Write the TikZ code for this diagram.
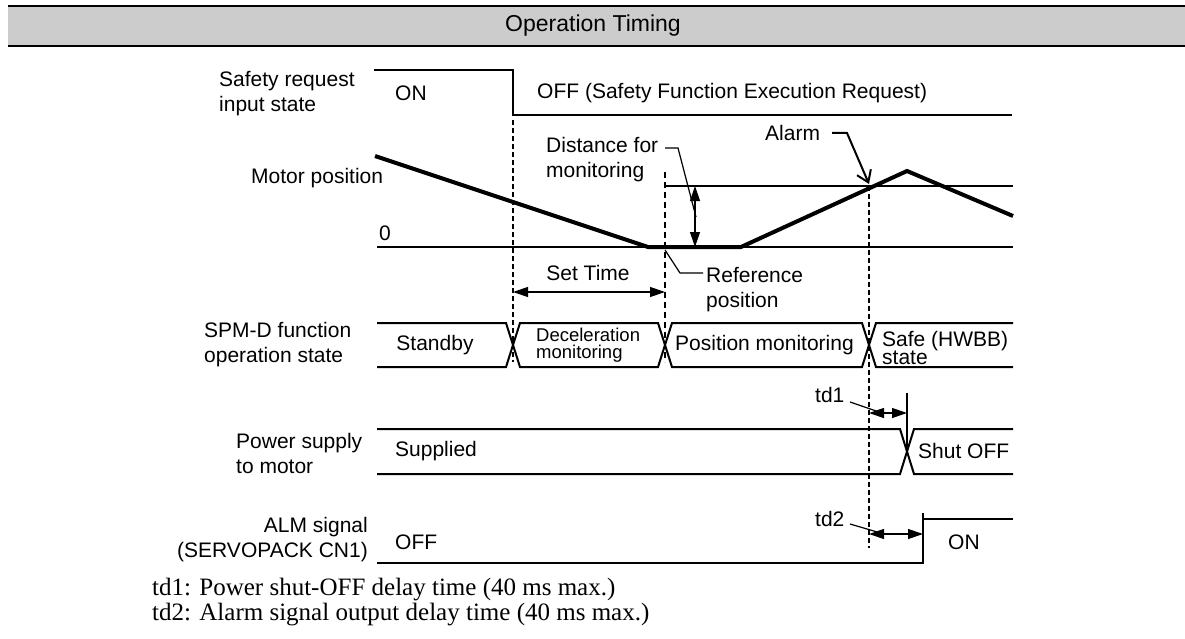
\documentclass[tikz,border=0pt]{standalone}
\usepackage{fontspec}
\setmainfont{Liberation Serif}
\setsansfont{Liberation Sans}
\usetikzlibrary{arrows.meta}
\definecolor{bandgray}{HTML}{CCCCCC}
\begin{document}
\begin{tikzpicture}[x=1pt,y=-1pt,
  lbl/.style={font=\sffamily\fontsize{21}{25}\selectfont, inner sep=0pt, align=left},
  small/.style={font=\sffamily\fontsize{18.5}{17.5}\selectfont, inner sep=0pt, align=left},
  tight/.style={font=\sffamily\fontsize{21}{17}\selectfont, inner sep=0pt, align=left},
  note/.style={font=\rmfamily\fontsize{25}{25}\selectfont, inner sep=0pt, anchor=west},
  sig/.style={line width=2pt, line join=miter},
  thinl/.style={line width=1.2pt},
  dash1/.style={line width=1.2pt, dash pattern=on 5pt off 3pt},
  dash2/.style={line width=2pt, dash pattern=on 6pt off 4pt},
  dimarr/.style={line width=1.2pt, {Triangle[length=15pt,width=10pt]}-{Triangle[length=15pt,width=10pt]}},
  leader/.style={line width=1.2pt}
]
\useasboundingbox (0,0) rectangle (1185,639);
% title band
\fill[bandgray] (8,6) rectangle (1185,46);
\draw[line width=2pt] (8,6) -- (1185,6);
\draw[line width=2pt] (8,46) -- (1185,46);
\node[lbl, font=\sffamily\fontsize{23}{25}\selectfont] (title) at (593,26) {Operation Timing};

% left labels
\node[lbl, anchor=west] (lsafe) at (219,94) {Safety request\\input state};
\node[lbl, anchor=west] (lmotor) at (251,178) {Motor position};
\node[lbl, anchor=west] (lspm) at (204,345) {SPM-D function\\operation state};
\node[lbl, anchor=west] (lpow) at (236,453) {Power supply\\to motor};
\node[lbl, anchor=east, align=right] (lalm) at (368,540) {ALM signal\\(SERVOPACK CN1)};

% safety request input state
\coordinate (sa) at (374,70);
\coordinate (sb) at (513,70);
\coordinate (sc) at (513,115);
\coordinate (sd) at (1012,115);
\draw[sig] (sa) -- (sb) -- (sc) -- (sd);
\node[lbl, anchor=west] (on1) at (395,93) {ON};
\node[lbl, anchor=west] (off1) at (537,93) {OFF (Safety Function Execution Request)};

% motor position
\coordinate (z0) at (377,247);
\coordinate (z1) at (1013,247);
\draw[thinl] (z0) -- (z1);
\coordinate (th0) at (665,186);
\coordinate (th1) at (1013,186);
\draw[line width=1.5pt] (th0) -- (th1);
\node[lbl, anchor=west] (zero) at (379,233) {0};
\coordinate (m0) at (375,156);
\coordinate (m1) at (648,247);
\coordinate (m2) at (741,247);
\coordinate (m3) at (907,171);
\coordinate (m4) at (1013,216);
\draw[line width=4pt, line join=miter] (m0) -- (m1) -- (m2) -- (m3) -- (m4);

% dashed time markers
\coordinate (d1a) at (513,120);
\coordinate (d1b) at (513,362);
\draw[dash1] (d1a) -- (d1b);
\coordinate (d2a) at (665,172);
\coordinate (d2b) at (665,362);
\draw[dash2] (d2a) -- (d2b);
\coordinate (d3a) at (869,186);
\coordinate (d3b) at (869,548);
\draw[dash1] (d3a) -- (d3b);

% distance for monitoring
\node[lbl, anchor=west] (dist) at (546,160) {Distance for\\monitoring};
\coordinate (da) at (695,186);
\coordinate (db) at (695,247);
\draw[dimarr] (da) -- (db);
\coordinate (dl0) at (665,148);
\coordinate (dl1) at (678,148);
\coordinate (dl2) at (696,217);
\draw[leader] (dl0) -- (dl1) -- (dl2);

% alarm
\node[lbl, anchor=west] (alarm) at (765,133) {Alarm};
\coordinate (al0) at (832,133);
\coordinate (al1) at (847,133);
\coordinate (al2) at (869,184);
\draw[line width=2pt, -{Straight Barb[length=11pt,width=15pt,line width=2pt]}] (al0) -- (al1) -- (al2);

% reference position
\node[lbl, anchor=west] (refpos) at (706,290) {Reference\\position};
\coordinate (r0) at (665,250);
\coordinate (r1) at (680,273);
\coordinate (r2) at (703,273);
\draw[leader] (r0) -- (r1) -- (r2);

% set time
\node[lbl] (settime) at (588,273) {Set Time};
\coordinate (st0) at (513,292);
\coordinate (st1) at (665,292);
\draw[dimarr] (st0) -- (st1);

% SPM-D state lane
\draw[sig] (377,323) -- (506,323) -- (520,367) -- (658,367) -- (672,323) -- (862,323) -- (876,367) -- (1013,367);
\draw[sig] (377,367) -- (506,367) -- (520,323) -- (658,323) -- (672,367) -- (862,367) -- (876,323) -- (1013,323);
\node[lbl] (standby) at (435,345) {Standby};
\node[small, anchor=west] (decel) at (536,345) {Deceleration\\monitoring};
\node[lbl, anchor=west] (posmon) at (675,345) {Position monitoring};
\node[tight, anchor=west] (safe) at (882,348) {Safe (HWBB)\\state};

% power supply lane
\draw[sig] (377,429) -- (900,429) -- (914,474) -- (1013,474);
\draw[sig] (377,474) -- (900,474) -- (914,429) -- (1013,429);
\node[lbl, anchor=west] (supplied) at (395,451) {Supplied};
\node[lbl, anchor=west] (shutoff) at (918,451) {Shut OFF};
\coordinate (t1v0) at (907,393);
\coordinate (t1v1) at (907,451);
\draw[line width=2pt] (t1v0) -- (t1v1);
\coordinate (t1a) at (869,413);
\coordinate (t1b) at (907,413);
\draw[dimarr] (t1a) -- (t1b);
\node[lbl, anchor=west] (td1) at (815,395) {td1};
\coordinate (t1l0) at (850,402);
\coordinate (t1l1) at (882,413);
\draw[leader] (t1l0) -- (t1l1);

% ALM signal lane
\draw[sig] (377,563) -- (923,563) -- (923,513);
\draw[sig] (923,519) -- (1013,519);
\node[lbl, anchor=west] (off2) at (395,542) {OFF};
\node[lbl, anchor=west] (on2) at (948,542) {ON};
\coordinate (t2a) at (869,534);
\coordinate (t2b) at (923,534);
\draw[dimarr] (t2a) -- (t2b);
\node[lbl, anchor=west] (td2) at (815,519) {td2};
\coordinate (t2l0) at (850,524);
\coordinate (t2l1) at (884,534);
\draw[leader] (t2l0) -- (t2l1);

% footnotes
\node[note] (fn1) at (152,590) {td1: Power shut-OFF delay time (40 ms max.)};
\node[note] (fn2) at (152,615) {td2: Alarm signal output delay time (40 ms max.)};
\end{tikzpicture}
\end{document}
